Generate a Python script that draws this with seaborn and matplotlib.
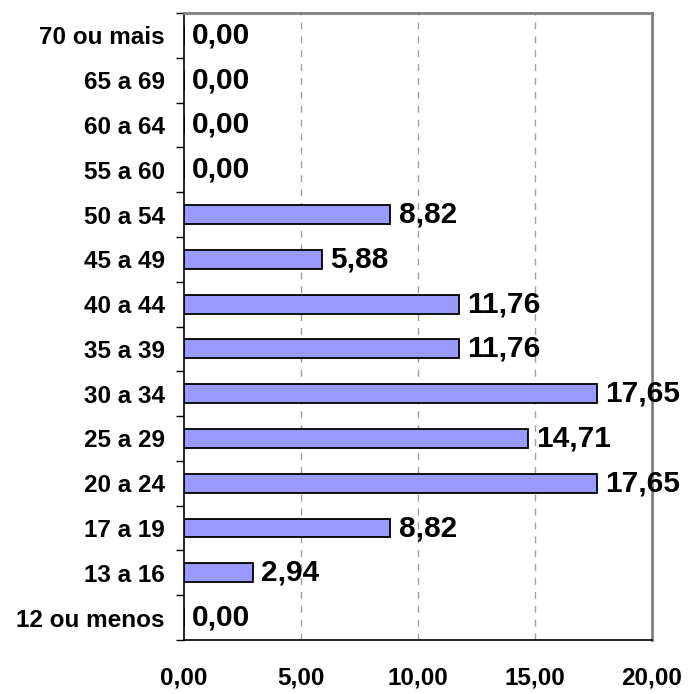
import seaborn as sns
import matplotlib.pyplot as plt
import pandas as pd
import numpy as np

# faixas etarias (de cima para baixo) e percentuais
faixas = ['70 ou mais', '65 a 69', '60 a 64', '55 a 60', '50 a 54', '45 a 49',
          '40 a 44', '35 a 39', '30 a 34', '25 a 29', '20 a 24', '17 a 19',
          '13 a 16', '12 ou menos']
percentuais = [0.00, 0.00, 0.00, 0.00, 8.82, 5.88, 11.76, 11.76, 17.65,
               14.71, 17.65, 8.82, 2.94, 0.00]
xticks = [0, 5, 10, 15, 20]
xtick_labels = ['0,00', '5,00', '10,00', '15,00', '20,00']

df = pd.DataFrame({'faixa': faixas, 'pct': percentuais})

sns.set_style('white')
plt.rcParams['font.family'] = ['Liberation Sans', 'DejaVu Sans']
plt.rcParams['font.weight'] = 'bold'
plt.rcParams['text.color'] = 'black'
plt.rcParams['xtick.color'] = 'black'
plt.rcParams['ytick.color'] = 'black'

fig = plt.figure(figsize=(6.88, 6.94), dpi=100)
ax = fig.add_axes([184 / 688, 54 / 694, 468 / 688, 627 / 694])

sns.barplot(data=df, x='pct', y='faixa', orient='h', order=faixas,
            color='#9999FF', saturation=1, edgecolor='black', linewidth=1.3,
            width=0.42, ax=ax, zorder=3)

# rotulos dos valores
rotulos = [f'{v:.2f}'.replace('.', ',') for v in percentuais]
ax.bar_label(ax.containers[0], labels=rotulos, padding=6,
             fontsize=21.5, fontweight='bold', color='black')

ax.set_xlim(0, 20)
ax.set_ylim(len(faixas) - 0.5, -0.5)
ax.set_xticks(xticks)
ax.set_xticklabels(xtick_labels, fontsize=17.5, fontweight='bold', color='black')
ax.set_yticklabels(faixas, fontsize=17.5, fontweight='bold', color='black')
ax.set_xlabel('')
ax.set_ylabel('')

# linhas de grade tracejadas
for x in xticks[1:-1]:
    ax.axvline(x, color='#A0A0A0', linestyle=(0, (5, 5)), linewidth=1, zorder=1)

ax.tick_params(axis='x', direction='out', length=6, width=1, pad=13, color='black')
ax.tick_params(axis='y', which='major', length=0, pad=14)
ax.set_yticks(np.arange(-0.5, len(faixas), 1), minor=True)
ax.tick_params(axis='y', which='minor', direction='out', length=6, width=1,
               color='black', left=True)

ax.spines['left'].set_color('black')
ax.spines['left'].set_linewidth(1.2)
ax.spines['bottom'].set_color('black')
ax.spines['bottom'].set_linewidth(1.2)
ax.spines['top'].set_color('#808080')
ax.spines['top'].set_linewidth(2)
ax.spines['right'].set_color('#808080')
ax.spines['right'].set_linewidth(2)

plt.savefig('out.png', dpi=100)
